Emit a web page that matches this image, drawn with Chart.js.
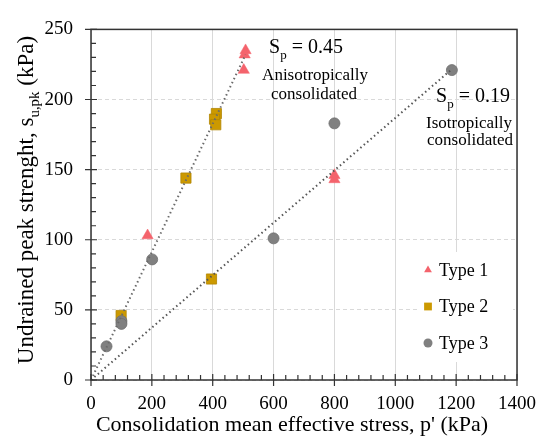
<!DOCTYPE html>
<html>
<head>
<meta charset="utf-8">
<script src="https://cdn.jsdelivr.net/npm/chart.js@4.4.1/dist/chart.umd.min.js"></script>
<style>
  body { margin: 0; background: #fff; }
</style>
</head>
<body>
<canvas id="c" width="549" height="443"></canvas>
<script>
// values
const type1X = [186, 508, 505, 502, 800, 800];
const type1Y = [103, 235, 232, 221, 146, 143];
const type2X = [99, 312, 396, 412, 406, 410];
const type2Y = [46, 144, 72, 190, 186, 182];
const type3X = [51, 100, 100, 201, 600, 800, 1186];
const type3Y = [24, 42, 40, 86, 101, 183, 221];

// fitted lines, s_u = Sp * p'
const fitAnisoX = [0, 508];
const fitAnisoY = [0, 232];
const fitIsoX = [0, 1188];
const fitIsoY = [0, 222];

const xTicks = [0, 200, 400, 600, 800, 1000, 1200, 1400];
const yTicks = [0, 50, 100, 150, 200, 250];
const seriesNames = ['Type 1', 'Type 2', 'Type 3'];

const SERIF = "'Liberation Serif', serif";
Chart.defaults.font.family = SERIF;
Chart.defaults.font.size = 19;
Chart.defaults.color = '#000';

const pts = (xs, ys) => xs.map((x, i) => ({ x: x, y: ys[i] }));

// text with subscripts: parts = [[text, isSub], ...]
function drawRich(ctx, parts, x, y, size, align) {
    const subSize = size * 0.65;
    let total = 0;
    parts.forEach(p => {
        ctx.font = (p[1] ? subSize : size) + 'px ' + SERIF;
        total += ctx.measureText(p[0]).width;
    });
    let cx = align === 'center' ? x - total / 2 : x;
    ctx.textAlign = 'left';
    ctx.textBaseline = 'alphabetic';
    parts.forEach(p => {
        ctx.font = (p[1] ? subSize : size) + 'px ' + SERIF;
        ctx.fillText(p[0], cx, p[1] ? y + size * 0.28 : y);
        cx += ctx.measureText(p[0]).width;
    });
}

const decorations = {
    id: 'decorations',
    afterDraw(chart) {
        const ctx = chart.ctx;
        const a = chart.chartArea;
        const xs = chart.scales.x, ys = chart.scales.y;
        ctx.save();

        // frame
        ctx.strokeStyle = '#333';
        ctx.lineWidth = 1.5;
        ctx.strokeRect(a.left, a.top, a.right - a.left, a.bottom - a.top);

        // ticks: major cross the axis, minor point inward
        ctx.lineWidth = 1.2;
        ctx.beginPath();
        for (let v = 0; v <= 1400; v += 40) {
            const px = xs.getPixelForValue(v);
            const major = v % 200 === 0;
            ctx.moveTo(px, a.bottom + (major ? 6 : 0));
            ctx.lineTo(px, a.bottom - (major ? 6 : 5));
        }
        for (let v = 0; v <= 250; v += 10) {
            const py = ys.getPixelForValue(v);
            const major = v % 50 === 0;
            ctx.moveTo(a.left - (major ? 6 : 0), py);
            ctx.lineTo(a.left + (major ? 6 : 5), py);
        }
        ctx.stroke();

        // axis titles
        ctx.fillStyle = '#000';
        ctx.font = '22px ' + SERIF;
        ctx.textAlign = 'center';
        ctx.textBaseline = 'alphabetic';
        ctx.fillText("Consolidation mean effective stress, p' (kPa)", 292, 431);

        ctx.save();
        ctx.translate(33, 200);
        ctx.rotate(-Math.PI / 2);
        drawRich(ctx, [['Undrained peak strenght, s', 0], ['u,pk', 1], [' (kPa)', 0]], 0, 0, 23, 'center');
        ctx.restore();

        // annotations
        drawRich(ctx, [['S', 0], ['p', 1], [' = 0.45', 0]], 306, 53, 20, 'center');
        ctx.font = '17px ' + SERIF;
        ctx.textAlign = 'center';
        ctx.fillText('Anisotropically', 315, 80);
        ctx.fillText('consolidated', 314, 99);

        drawRich(ctx, [['S', 0], ['p', 1], [' = 0.19', 0]], 473, 102, 20, 'center');
        ctx.font = '17px ' + SERIF;
        ctx.textAlign = 'center';
        ctx.fillText('Isotropically', 469, 128);
        ctx.fillText('consolidated', 470, 145);

        // legend inside the plot
        ctx.fillStyle = '#fff';
        ctx.fillRect(420, 252, 93, 110);
        const rows = [270, 306.5, 343];
        seriesNames.forEach((name, i) => {
            const ds = chart.data.datasets[i];
            ctx.fillStyle = ds.backgroundColor;
            ctx.strokeStyle = ds.backgroundColor;
            Chart.helpers.drawPoint(ctx, {
                pointStyle: ds.pointStyle,
                radius: ds.pointStyle === 'rect' ? 5.5 : 4.5,
                borderWidth: 0,
                rotation: 0
            }, 428, rows[i]);
            ctx.fillStyle = '#000';
            ctx.font = '18px ' + SERIF;
            ctx.textAlign = 'left';
            ctx.textBaseline = 'middle';
            ctx.fillText(name, 439, rows[i] + 1);
        });

        ctx.restore();
    }
};

new Chart(document.getElementById('c'), {
    type: 'scatter',
    data: {
        datasets: [
            {
                label: seriesNames[0],
                data: pts(type1X, type1Y),
                pointStyle: 'triangle',
                pointRadius: 6.5,
                backgroundColor: '#f4636c',
                borderColor: '#f4636c',
                borderWidth: 0.5,
                order: 3
            },
            {
                label: seriesNames[1],
                data: pts(type2X, type2Y),
                pointStyle: 'rect',
                pointRadius: 7.2,
                backgroundColor: '#cc9900',
                borderColor: '#b38600',
                borderWidth: 0.8,
                order: 2
            },
            {
                label: seriesNames[2],
                data: pts(type3X, type3Y),
                pointStyle: 'circle',
                pointRadius: 5.5,
                backgroundColor: '#808080',
                borderColor: '#6e6e6e',
                borderWidth: 0.8,
                order: 1
            },
            {
                label: 'fit aniso',
                type: 'line',
                data: pts(fitAnisoX, fitAnisoY),
                borderColor: '#6a6a6a',
                borderWidth: 2,
                borderDash: [1.5, 3],
                pointRadius: 0,
                fill: false,
                order: 0
            },
            {
                label: 'fit iso',
                type: 'line',
                data: pts(fitIsoX, fitIsoY),
                borderColor: '#555',
                borderWidth: 2,
                borderDash: [1.5, 3],
                pointRadius: 0,
                fill: false,
                order: 0
            }
        ]
    },
    options: {
        responsive: false,
        animation: false,
        devicePixelRatio: 1,
        layout: { padding: { left: 0, top: 22, right: 22, bottom: 0 } },
        plugins: { legend: { display: false }, tooltip: { enabled: false } },
        scales: {
            x: {
                type: 'linear',
                min: 0,
                max: 1400,
                afterBuildTicks: s => { s.ticks = xTicks.map(v => ({ value: v })); },
                afterFit: s => { s.height = 63; },
                ticks: {
                    color: '#000',
                    font: { family: SERIF, size: 19 },
                    padding: 13,
                    maxRotation: 0,
                    callback: v => String(v)
                },
                grid: { color: '#d9d9d9', lineWidth: 1, drawTicks: false },
                border: { display: false }
            },
            y: {
                type: 'linear',
                min: 0,
                max: 250,
                afterBuildTicks: s => { s.ticks = yTicks.map(v => ({ value: v })); },
                afterFit: s => { s.width = 91; },
                ticks: {
                    color: '#000',
                    font: { family: SERIF, size: 19 },
                    padding: 18,
                    callback: v => String(v)
                },
                grid: { color: '#d9d9d9', lineWidth: 1, drawTicks: false },
                border: { display: false, dash: [4, 3] }
            }
        }
    },
    plugins: [decorations]
});
</script>
</body>
</html>
